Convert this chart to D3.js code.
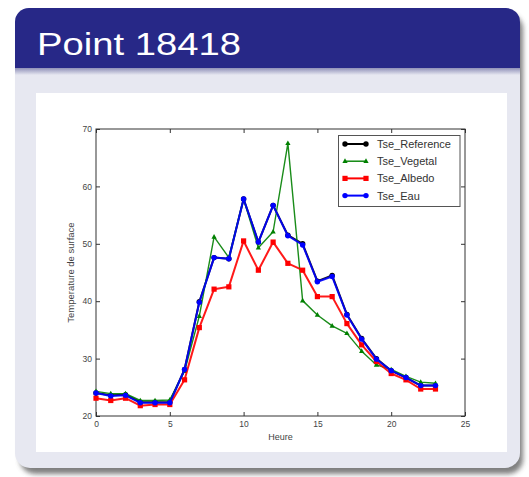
<!DOCTYPE html>
<html><head><meta charset="utf-8">
<script src="https://cdn.jsdelivr.net/npm/d3@7"></script>
<style>html,body{margin:0;padding:0;background:#fff;}svg{display:block;}</style>
</head><body>
<script>
const title = "Point 18418";
const hours = d3.range(0, 24);
const tseReference = [24.0,23.6,23.7,22.4,22.4,22.4,28.1,39.9,47.6,47.4,57.8,50.3,56.7,51.5,50.0,43.5,44.5,37.7,33.5,30.0,27.9,26.7,25.3,25.3];
const tseVegetal   = [24.3,23.9,23.9,22.7,22.7,22.8,27.8,37.4,51.2,47.6,57.8,49.3,52.1,67.5,40.1,37.6,35.7,34.4,31.3,28.9,28.1,26.9,25.9,25.7];
const tseAlbedo    = [23.1,22.7,23.1,21.8,22.0,22.0,26.3,35.4,42.1,42.5,50.5,45.4,50.3,46.6,45.4,40.8,40.8,36.1,32.4,29.5,27.4,26.3,24.7,24.7];
const tseEau       = [24.0,23.5,23.6,22.3,22.3,22.3,28.1,39.8,47.6,47.4,57.8,50.3,56.7,51.4,49.8,43.4,44.3,37.6,33.4,29.9,27.9,26.7,25.3,25.3];
const xTicks = [0,5,10,15,20,25];
const yTicks = [20,30,40,50,60,70];
const seriesNames = ["Tse_Reference","Tse_Vegetal","Tse_Albedo","Tse_Eau"];
const seriesValues = [tseReference, tseVegetal, tseAlbedo, tseEau];
const seriesColors = ["#000000","#008000","#ff0000","#0000ff"];
const seriesMarkers = ["circle","triangle","square","circle"];
const xLabel = "Heure";
const yLabel = "Temperature de surface";

const W = 529, H = 477;
const FONT = "'Liberation Sans', Arial, sans-serif";
const svg = d3.select("body").append("svg").attr("width", W).attr("height", H);
const defs = svg.append("defs");
const sh = defs.append("linearGradient").attr("id","hshadow").attr("x1",0).attr("y1",0).attr("x2",0).attr("y2",1);
sh.append("stop").attr("offset","0%").attr("stop-color","#8f90b8");
sh.append("stop").attr("offset","100%").attr("stop-color","#e7e8f1");
const blur = defs.append("filter").attr("id","blur").attr("x","-10%").attr("y","-10%").attr("width","120%").attr("height","120%");
blur.append("feGaussianBlur").attr("stdDeviation",2.5);

// shadow of block
svg.append("rect").attr("x",20).attr("y",14).attr("width",503).attr("height",460).attr("rx",15)
  .attr("fill","#555").attr("opacity",0.75).attr("filter","url(#blur)");
// body
svg.append("rect").attr("x",15).attr("y",8).attr("width",505).attr("height",460).attr("rx",15).attr("fill","#e7e8f1");
// header
svg.append("path").attr("d", "M15,68 L15,22 A14,14 0 0 1 29,8 L506,8 A14,14 0 0 1 520,22 L520,68 Z").attr("fill","#272887");
svg.append("rect").attr("x",15).attr("y",68).attr("width",505).attr("height",7).attr("fill","url(#hshadow)");
svg.append("text").attr("x",37).attr("y",54.5).text(title)
  .attr("fill","#fff").attr("font-family",FONT).attr("font-size",32)
  .attr("textLength",204).attr("lengthAdjust","spacingAndGlyphs");
// white panel
svg.append("rect").attr("x",36).attr("y",93).attr("width",471).attr("height",359).attr("fill","#fff");

const x = d3.scaleLinear().domain([0,25]).range([96,465]);
const y = d3.scaleLinear().domain([20,70]).range([416,129]);
const g = svg.append("g");
const axColor = "#333";

// box
g.append("rect").attr("x",x(0)).attr("y",y(70)).attr("width",x(25)-x(0)).attr("height",y(20)-y(70))
  .attr("fill","none").attr("stroke",axColor).attr("stroke-width",1);

const axB = g.append("g").attr("transform",`translate(0,${y(20)})`)
  .call(d3.axisBottom(x).tickValues(xTicks).tickSize(-4).tickPadding(5).tickFormat(d3.format("d")));
const axT = g.append("g").attr("transform",`translate(0,${y(70)})`)
  .call(d3.axisTop(x).tickValues(xTicks).tickSize(-4).tickFormat(""));
const axL = g.append("g").attr("transform",`translate(${x(0)},0)`)
  .call(d3.axisLeft(y).tickValues(yTicks).tickSize(-4).tickPadding(4).tickFormat(d3.format("d")));
const axR = g.append("g").attr("transform",`translate(${x(25)},0)`)
  .call(d3.axisRight(y).tickValues(yTicks).tickSize(-4).tickFormat(""));
[axB, axT, axL, axR].forEach(a => {
  a.select(".domain").remove();
  a.selectAll(".tick line").attr("stroke",axColor);
  a.selectAll("text").attr("fill","#444").attr("font-family",FONT).attr("font-size",8.5);
});

g.append("text").attr("x",(x(0)+x(25))/2).attr("y",440).attr("text-anchor","middle").text(xLabel)
  .attr("fill","#444").attr("font-family",FONT).attr("font-size",9);
g.append("text").attr("transform",`translate(74,${(y(20)+y(70))/2}) rotate(-90)`).attr("text-anchor","middle").text(yLabel)
  .attr("fill","#444").attr("font-family",FONT).attr("font-size",9.5);

function marker(sel, type, color, cx, cy, s) {
  if (type === "circle") sel.append("circle").attr("cx",cx).attr("cy",cy).attr("r",s).attr("fill",color);
  else if (type === "square") sel.append("rect").attr("x",cx-s).attr("y",cy-s).attr("width",2*s).attr("height",2*s).attr("fill",color);
  else sel.append("path").attr("d",`M${cx},${cy-s*1.3}L${cx+s*1.2},${cy+s*0.8}L${cx-s*1.2},${cy+s*0.8}Z`).attr("fill",color);
}
const line = d3.line().x((d,i)=>x(hours[i])).y(d=>y(d));
const widths = [2, 1.4, 2, 2];
const msize = [2.7, 2.2, 2.6, 2.7];
seriesValues.forEach((vals, k) => {
  const sg = g.append("g");
  sg.append("path").datum(vals).attr("d",line).attr("fill","none").attr("stroke",seriesColors[k])
    .attr("stroke-width",widths[k]).attr("stroke-linejoin","round").attr("opacity",0.9);
  vals.forEach((v,i) => marker(sg, seriesMarkers[k], seriesColors[k], x(hours[i]), y(v), msize[k]));
});

// legend
const lg = g.append("g");
lg.append("rect").attr("x",338.5).attr("y",135.5).attr("width",121.5).attr("height",71)
  .attr("fill","#fff").attr("stroke","#555").attr("stroke-width",1);
seriesNames.forEach((n,k) => {
  const yy = 144 + k*17.2;
  lg.append("line").attr("x1",345).attr("x2",366).attr("y1",yy).attr("y2",yy)
    .attr("stroke",seriesColors[k]).attr("stroke-width",widths[k]);
  marker(lg, seriesMarkers[k], seriesColors[k], 345, yy, msize[k]);
  marker(lg, seriesMarkers[k], seriesColors[k], 366, yy, msize[k]);
  lg.append("text").attr("x",377).attr("y",yy+4).text(n).attr("fill","#333")
    .attr("font-family",FONT).attr("font-size",11);
});
</script>
</body></html>
